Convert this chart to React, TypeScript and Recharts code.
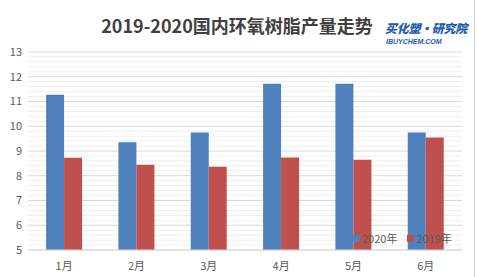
import React from "react";
import { BarChart, Bar, XAxis, YAxis, CartesianGrid } from "recharts";

const months = ["1月", "2月", "3月", "4月", "5月", "6月"];
const y2020 = [11.27, 9.35, 9.75, 11.72, 11.72, 9.75];
const y2019 = [8.73, 8.44, 8.36, 8.74, 8.65, 9.55];
const yTicks = [5, 6, 7, 8, 9, 10, 11, 12, 13];
const minorTicks = [
  5.2, 5.4, 5.6, 5.8, 6.2, 6.4, 6.6, 6.8, 7.2, 7.4, 7.6, 7.8, 8.2, 8.4, 8.6, 8.8,
  9.2, 9.4, 9.6, 9.8, 10.2, 10.4, 10.6, 10.8, 11.2, 11.4, 11.6, 11.8, 12.2, 12.4, 12.6, 12.8,
];
const Y_MIN = 5;
const Y_MAX = 13;

const data = months.map((m, i) => ({ month: m, a2020: y2020[i], a2019: y2019[i] }));

const BLUE = "#4f81bd";
const RED = "#c0504d";
const TXT = "#595959";

const toY = (offset: any, t: number) =>
  offset.top + ((Y_MAX - t) / (Y_MAX - Y_MIN)) * offset.height;

export default function App() {
  return (
    <div style={{ position: "absolute", left: 0, top: 0, width: 477, height: 277, background: "#fff", fontFamily: "'Noto Sans CJK SC', sans-serif" }}>
      <div style={{ position: "absolute", left: 474, top: 0, width: 1, height: 277, background: "#d0d0d0" }} />
      <div style={{ position: "absolute", left: 0, top: 11, width: 474, textAlign: "center", fontSize: 18, fontWeight: 700, color: "#404040", lineHeight: "28px", whiteSpace: "nowrap" }}>
        2019-2020国内环氧树脂产量走势
      </div>
      <div style={{ position: "absolute", left: 385, top: 21, color: "#1c5bb0", fontStyle: "italic", fontWeight: 900, fontSize: 12, lineHeight: "14px", letterSpacing: -0.3, whiteSpace: "nowrap" }}>
        买化塑·研究院
      </div>
      <div style={{ position: "absolute", left: 386, top: 38, color: "#1c5bb0", fontStyle: "italic", fontWeight: 900, fontSize: 7, lineHeight: "8px", whiteSpace: "nowrap", fontFamily: "Arial, 'Liberation Sans', sans-serif" }}>
        IBUYCHEM.COM
      </div>
      <BarChart
        width={477}
        height={277}
        data={data}
        margin={{ top: 52, right: 15, bottom: 7, left: 0 }}
        barCategoryGap="25%"
        barGap={0}
        style={{ position: "absolute", left: 0, top: 0 }}
      >
        <CartesianGrid
          vertical={false}
          stroke="#eeeeee"
          horizontalCoordinatesGenerator={({ offset }: any) => minorTicks.map((t) => toY(offset, t))}
        />
        <CartesianGrid
          vertical={false}
          stroke="#d9d9d9"
          horizontalCoordinatesGenerator={({ offset }: any) => yTicks.map((t) => toY(offset, t))}
        />
        <XAxis
          dataKey="month"
          height={20}
          tickLine={false}
          axisLine={{ stroke: "#d9d9d9" }}
          tick={{ fontSize: 11, fill: TXT }}
          tickMargin={6}
        />
        <YAxis
          domain={[Y_MIN, Y_MAX]}
          ticks={yTicks}
          width={28}
          tickLine={false}
          axisLine={false}
          tickSize={4}
          tickMargin={2}
          tick={{ fontSize: 11, fill: TXT }}
          interval={0}
        />
        <Bar dataKey="a2020" name="2020年" fill={BLUE} isAnimationActive={false} />
        <Bar dataKey="a2019" name="2019年" fill={RED} isAnimationActive={false} />
      </BarChart>
      <div style={{ position: "absolute", left: 353, top: 231, display: "flex", alignItems: "center", fontSize: 11, lineHeight: "14px", color: TXT, whiteSpace: "nowrap" }}>
        <span style={{ width: 7, height: 7, background: BLUE, display: "inline-block", marginRight: 2 }} />
        <span style={{ marginRight: 10 }}>2020年</span>
        <span style={{ width: 7, height: 7, background: RED, display: "inline-block", marginRight: 2 }} />
        <span>2019年</span>
      </div>
    </div>
  );
}
